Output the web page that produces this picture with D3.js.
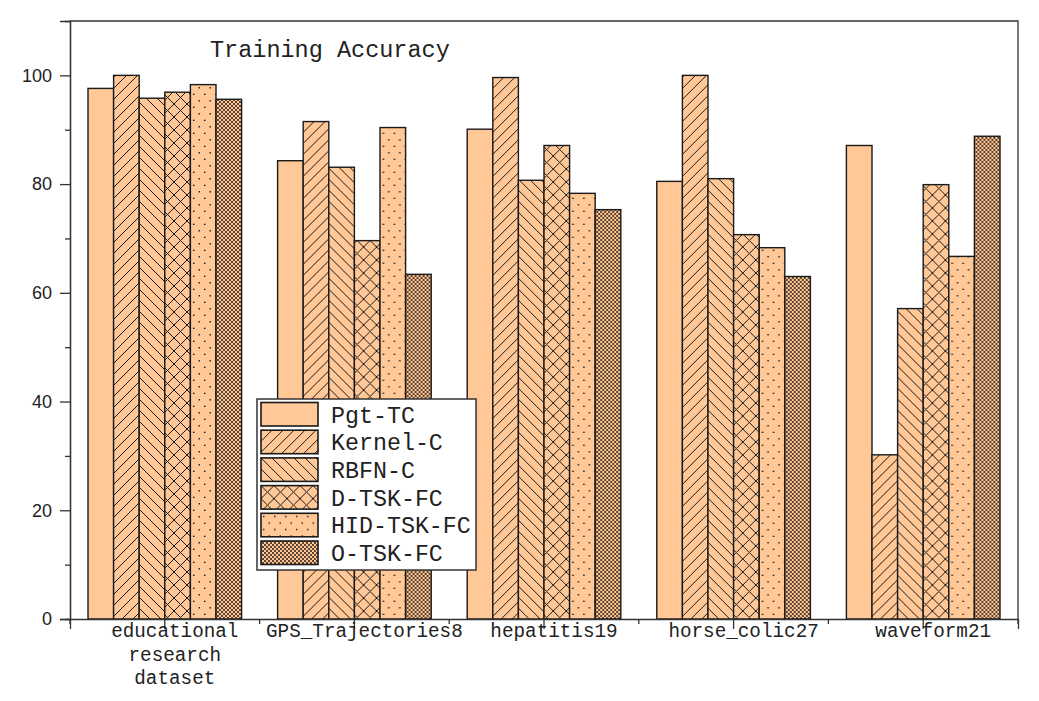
<!DOCTYPE html>
<html>
<head>
<meta charset="utf-8">
<script src="https://cdn.jsdelivr.net/npm/d3@7"></script>
<style>
  body { margin: 0; background: #fff; }
  text { fill: #222; }
</style>
</head>
<body>
<div id="chart"></div>
<script>
// datos
const datasets = ["educational research dataset", "GPS_Trajectories8", "hepatitis19", "horse_colic27", "waveform21"];
const datasetLines = [["educational", "research", "dataset"], ["GPS_Trajectories8"], ["hepatitis19"], ["horse_colic27"], ["waveform21"]];
const methods = ["Pgt-TC", "Kernel-C", "RBFN-C", "D-TSK-FC", "HID-TSK-FC", "O-TSK-FC"];
const pgtTC     = [97.6, 84.3, 90.1, 80.5, 87.1];
const kernelC   = [100.0, 91.5, 99.6, 100.0, 30.2];
const rbfnC     = [95.8, 83.1, 80.7, 81.0, 57.1];
const dTskFC    = [96.9, 69.6, 87.1, 70.7, 79.9];
const hidTskFC  = [98.3, 90.4, 78.3, 68.3, 66.7];
const oTskFC    = [95.6, 63.4, 75.3, 63.0, 88.8];
const seriesValues = [pgtTC, kernelC, rbfnC, dTskFC, hidTskFC, oTskFC];
const yMajorTicks = [0, 20, 40, 60, 80, 100];
const yMinorTicks = [10, 30, 50, 70, 90];

const width = 1039, height = 701;
const plotLeft = 70, plotRight = 1018, plotTop = 21, plotBottom = 619;
const peach = "#FFC896";
const ink = "#1a1a1a";
const monoFont = "'Liberation Mono', 'DejaVu Sans Mono', monospace";

const svg = d3.select("#chart").append("svg")
    .attr("width", width)
    .attr("height", height);

// Patrones de relleno
const defs = svg.append("defs");
function pattern(id, w, h, draw) {
    const p = defs.append("pattern")
        .attr("id", id)
        .attr("patternUnits", "userSpaceOnUse")
        .attr("width", w)
        .attr("height", h);
    p.append("rect").attr("width", w).attr("height", h).attr("fill", peach);
    draw(p, w, h);
}
pattern("p0", 10, 10, () => {});
pattern("p1", 11, 11, (p, s) => {
    p.append("path")
        .attr("d", `M0,${s} L${s},0 M${-s/2},${s/2} L${s/2},${-s/2} M${s/2},${1.5*s} L${1.5*s},${s/2}`)
        .attr("stroke", ink).attr("stroke-width", 1);
});
pattern("p2", 11, 11, (p, s) => {
    p.append("path")
        .attr("d", `M0,0 L${s},${s} M${-s/2},${s/2} L${s/2},${1.5*s} M${s/2},${-s/2} L${1.5*s},${s/2}`)
        .attr("stroke", ink).attr("stroke-width", 1);
});
pattern("p3", 13, 13, (p, s) => {
    p.append("path")
        .attr("d", `M0,${s} L${s},0 M${-s/2},${s/2} L${s/2},${-s/2} M${s/2},${1.5*s} L${1.5*s},${s/2}
                    M0,0 L${s},${s} M${-s/2},${s/2} L${s/2},${1.5*s} M${s/2},${-s/2} L${1.5*s},${s/2}`)
        .attr("stroke", ink).attr("stroke-width", 1);
});
pattern("p4", 11, 13, (p, w, h) => {
    p.append("circle").attr("cx", w * 0.25).attr("cy", h * 0.25).attr("r", 0.85).attr("fill", ink);
    p.append("circle").attr("cx", w * 0.75).attr("cy", h * 0.75).attr("r", 0.85).attr("fill", ink);
});
pattern("p5", 4, 4, (p, s) => {
    p.append("path")
        .attr("d", `M0,${s} L${s},0 M0,0 L${s},${s}`)
        .attr("stroke", "#4a3424").attr("stroke-width", 0.9);
});

// Escalas
const x = d3.scaleBand().domain(datasets).range([plotLeft, plotRight]);
const xInner = d3.scaleBand().domain(methods).range([18, x.bandwidth() - 18]);
const y = d3.scaleLinear().domain([0, 110]).range([plotBottom, plotTop]);

// Barras
const groups = svg.append("g")
    .selectAll("g")
    .data(datasets)
    .join("g")
    .attr("transform", d => `translate(${x(d)},0)`);

groups.selectAll("rect")
    .data((d, i) => methods.map((m, j) => ({ m, j, v: seriesValues[j][i] })))
    .join("rect")
    .attr("x", d => xInner(d.m))
    .attr("y", d => y(d.v))
    .attr("width", xInner.bandwidth())
    .attr("height", d => y(0) - y(d.v))
    .attr("fill", d => `url(#p${d.j})`)
    .attr("stroke", ink)
    .attr("stroke-width", 1.4);

// Eje Y
const yAxis = svg.append("g")
    .attr("transform", `translate(${plotLeft},0)`)
    .call(d3.axisLeft(y).tickValues(yMajorTicks).tickSize(10).tickPadding(8));
yAxis.append("g")
    .call(d3.axisLeft(y).tickValues(yMinorTicks).tickSize(5).tickFormat(""));
yAxis.selectAll("text")
    .attr("font-family", "'Liberation Sans', Arial, sans-serif")
    .attr("font-size", 18)
    .attr("fill", "#333");

// Eje X
const boundaries = datasets.map(d => x(d)).concat([plotRight]);
svg.append("g")
    .attr("transform", `translate(0,${plotBottom})`)
    .call(d3.axisBottom(x).tickSize(10).tickFormat(""));
svg.append("g")
    .attr("transform", `translate(0,${plotBottom})`)
    .selectAll("line")
    .data(boundaries)
    .join("line")
    .attr("x1", d => d).attr("x2", d => d)
    .attr("y1", 0).attr("y2", 5)
    .attr("stroke", "#333").attr("stroke-width", 1.3);

svg.selectAll(".domain, .tick line")
    .attr("stroke", "#333")
    .attr("stroke-width", 1.3);

// Etiquetas de categorias
svg.append("g")
    .selectAll("text")
    .data(datasets)
    .join("text")
    .attr("x", d => x(d) + x.bandwidth() / 2 + 10)
    .attr("y", 637)
    .attr("text-anchor", "middle")
    .attr("font-family", monoFont)
    .attr("font-size", 19.3)
    .selectAll("tspan")
    .data((d, i) => datasetLines[i])
    .join("tspan")
    .attr("x", function () { return this.parentNode.getAttribute("x"); })
    .attr("dy", (d, i) => i === 0 ? 0 : 23.5)
    .text(d => d);

// Marco superior y derecho
svg.append("path")
    .attr("d", `M${plotLeft},${plotTop} H${plotRight} V${plotBottom}`)
    .attr("fill", "none")
    .attr("stroke", "#333")
    .attr("stroke-width", 1.3);

// Titulo
svg.append("text")
    .attr("x", 210)
    .attr("y", 57)
    .attr("font-family", monoFont)
    .attr("font-size", 23.5)
    .text("Training Accuracy");

// Leyenda
const legend = svg.append("g").attr("transform", "translate(257,399)");
legend.append("rect")
    .attr("width", 219)
    .attr("height", 171)
    .attr("fill", "#fff")
    .attr("stroke", "#333")
    .attr("stroke-width", 1.5);
const item = legend.selectAll("g.item")
    .data(methods)
    .join("g")
    .attr("class", "item")
    .attr("transform", (d, i) => `translate(4,${3.5 + i * 27.7})`);
item.append("rect")
    .attr("width", 57)
    .attr("height", 23.5)
    .attr("fill", (d, i) => `url(#p${i})`)
    .attr("stroke", ink)
    .attr("stroke-width", 1.6);
item.append("text")
    .attr("x", 70)
    .attr("y", 20)
    .attr("font-family", monoFont)
    .attr("font-size", 23.3)
    .text(d => d);
</script>
</body>
</html>
